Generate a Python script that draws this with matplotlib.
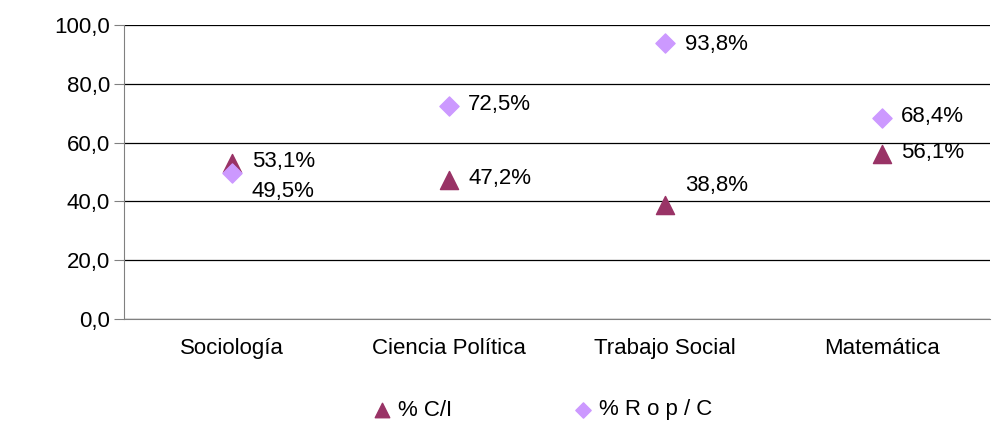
import matplotlib
matplotlib.use("Agg")
from matplotlib import pyplot as plt

carreras = ["Sociología", "Ciencia Política", "Trabajo Social", "Matemática"]
pct_ci = [53.1, 47.2, 38.8, 56.1]      # % C/I
pct_ropc = [49.5, 72.5, 93.8, 68.4]    # % R o p / C
lab_ci = ["53,1%", "47,2%", "38,8%", "56,1%"]
lab_ropc = ["49,5%", "72,5%", "93,8%", "68,4%"]

plt.rcParams['font.family'] = ['Liberation Sans', 'DejaVu Sans']
fs = 16

fig = plt.figure(figsize=(10.05, 4.45), dpi=100)
ax = fig.add_axes([124/1005, 1-319/445, (990-124)/1005, (319-25)/445])

x = range(len(carreras))
ax.scatter(x, pct_ci, marker="^", s=170, color="#993366", zorder=3, label="% C/I")
ax.scatter(x, pct_ropc, marker="D", s=95, color="#CC99FF", zorder=4, label="% R o p / C")

# desplazamientos de las etiquetas (en puntos)
off_ci = [(14, 1), (14, 1), (14, 14), (14, 1)]
off_ropc = [(14, -13), (14, 1), (14, -1), (14, 1)]
for i in x:
    ax.annotate(lab_ci[i], (i, pct_ci[i]), xytext=off_ci[i], textcoords="offset points",
                va="center", ha="left", fontsize=fs)
    ax.annotate(lab_ropc[i], (i, pct_ropc[i]), xytext=off_ropc[i], textcoords="offset points",
                va="center", ha="left", fontsize=fs)

ax.set_xlim(-0.5, 3.5)
ax.set_ylim(0, 100)
ax.set_yticks([0, 20, 40, 60, 80, 100])
ax.set_yticklabels(["0,0", "20,0", "40,0", "60,0", "80,0", "100,0"], fontsize=fs)
ax.set_xticks(list(x))
ax.set_xticklabels(carreras, fontsize=fs)
ax.tick_params(axis="x", length=0, pad=14)
ax.tick_params(axis="y", length=7, color="#808080", pad=3)
ax.grid(axis="y", color="black", linewidth=0.9)
ax.set_axisbelow(True)
for s in ["top", "right"]:
    ax.spines[s].set_visible(False)
ax.spines["left"].set_color("#808080")
ax.spines["bottom"].set_color("#808080")

fig.legend(loc="center", bbox_to_anchor=(0.54, 1-410/445), ncol=2, frameon=False,
           fontsize=fs, handlelength=0.8, handletextpad=0.3, columnspacing=5.5,
           markerscale=0.8)

fig.savefig("out.png", dpi=100)
